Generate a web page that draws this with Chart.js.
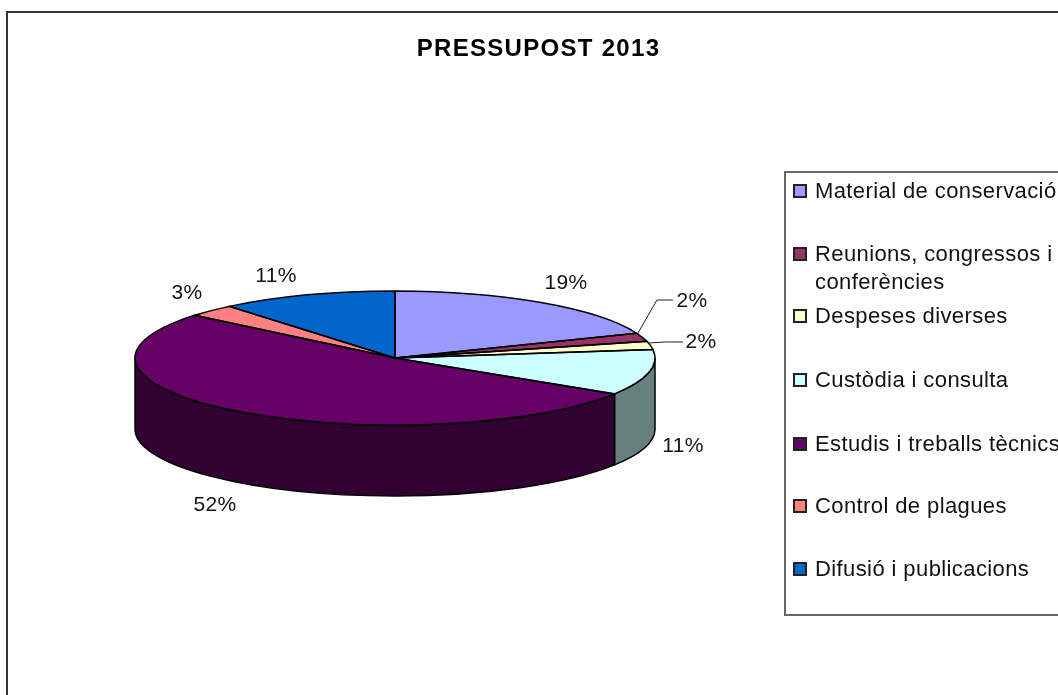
<!DOCTYPE html>
<html>
<head>
<meta charset="utf-8">
<title>PRESSUPOST 2013</title>
<script src="https://cdn.jsdelivr.net/npm/chart.js@4"></script>
<style>
  html, body { margin: 0; background: #fff; overflow: hidden; }
  #wrap { position: relative; width: 1058px; height: 695px; overflow: hidden; }
  #frame { position: absolute; left: 6px; top: 11px; width: 1100px; height: 800px; border: 2px solid #333; }
  #pie { position: absolute; left: 0; top: 0; }
  #legend { position: absolute; left: 784px; top: 171px; width: 320px; height: 441px; border: 2px solid #666;
            font: 22px "Liberation Sans", Arial, sans-serif; letter-spacing: .4px; color: #111; }
  .legend-item { position: absolute; left: 29px; line-height: 28px; white-space: pre; }
  .legend-dot { position: absolute; left: -22px; top: 7px; width: 10px; height: 10px; border: 2px solid #222; }
</style>
</head>
<body>
<div id="wrap">
  <div id="frame"></div>
  <!-- canvas runs past the window on the right, the original frame is cut off there too -->
  <canvas id="pie" width="1077" height="695"></canvas>
  <div id="legend"></div>
</div>
<script>
const titleText  = 'PRESSUPOST 2013';
const categories = ['Material de conservació', 'Reunions, congressos i\nconferències', 'Despeses diverses',
                    'Custòdia i consulta', 'Estudis i treballs tècnics', 'Control de plagues', 'Difusió i publicacions'];
const values     = [19, 2, 2, 11, 52, 3, 11];
const topColors  = ['#9999ff', '#993366', '#ffffcc', '#ccffff', '#660066', '#ff8080', '#0066cc'];
const sideColors = ['#4c4c80', '#4c1933', '#808066', '#668080', '#330033', '#804040', '#003366'];

// pie geometry on the page (3D look = circle squashed in y + extruded wall)
const CX = 395, CY = 358, RX = 260, RY = 67, DEPTH = 71;

// where the % text sits, same order as values
const labelSpots = [[566, 283], [692, 301], [701, 342], [683, 446], [215, 505], [187, 293], [276, 276]];
const leaders = [
  [[638, 333], [657, 300], [673, 300]],
  [[648, 343], [666, 342], [683, 342]],
];
const legendRows = [192, 255, 317, 381, 445, 507, 570];
const legendTop = 173;

function squash(ctx, arc) {
  ctx.translate(CX, CY);
  ctx.scale(1, RY / RX);
  ctx.translate(-arc.x, -arc.y);
}

const pie3d = {
  id: 'pie3d',
  beforeDraw(chart) {
    chart.ctx.letterSpacing = '1.3px'; // title is spaced out in the original
  },
  beforeDatasetDraw(chart) {
    const ctx = chart.ctx;
    const arcs = chart.getDatasetMeta(0).data;
    // outer wall, only the front half of the rim shows
    arcs.forEach((arc, i) => {
      const a0 = Math.max(arc.startAngle, 0);
      const a1 = Math.min(arc.endAngle, Math.PI);
      if (a1 <= a0) return;
      ctx.save();
      ctx.beginPath();
      ctx.ellipse(CX, CY, RX, RY, 0, a0, a1);
      ctx.lineTo(CX + RX * Math.cos(a1), CY + RY * Math.sin(a1) + DEPTH);
      ctx.ellipse(CX, CY + DEPTH, RX, RY, 0, a1, a0, true);
      ctx.closePath();
      ctx.fillStyle = sideColors[i];
      ctx.fill();
      ctx.strokeStyle = '#000';
      ctx.lineWidth = 1.5;
      ctx.stroke();
      ctx.restore();
    });
    ctx.save();
    squash(ctx, arcs[0]);
  },
  afterDatasetDraw(chart) {
    const ctx = chart.ctx;
    const arcs = chart.getDatasetMeta(0).data;
    ctx.restore();
    // slice outlines in page space so the line width is not squashed
    arcs.forEach(arc => {
      ctx.save();
      ctx.beginPath();
      ctx.moveTo(CX, CY);
      ctx.ellipse(CX, CY, RX, RY, 0, arc.startAngle, arc.endAngle);
      ctx.closePath();
      ctx.strokeStyle = '#000';
      ctx.lineWidth = 1.5;
      ctx.stroke();
      ctx.restore();
    });
  },
  afterDraw(chart) {
    const ctx = chart.ctx;
    ctx.save();
    ctx.strokeStyle = '#222';
    ctx.lineWidth = 1;
    leaders.forEach(pts => {
      ctx.beginPath();
      pts.forEach(([x, y], k) => k ? ctx.lineTo(x, y) : ctx.moveTo(x, y));
      ctx.stroke();
    });
    ctx.font = '21px "Liberation Sans", Arial, sans-serif';
    ctx.letterSpacing = '.3px';
    ctx.fillStyle = '#111';
    ctx.textAlign = 'center';
    ctx.textBaseline = 'middle';
    values.forEach((v, i) => ctx.fillText(v + '%', labelSpots[i][0], labelSpots[i][1]));
    ctx.restore();
  },
};

new Chart(document.getElementById('pie'), {
  type: 'pie',
  data: {
    labels: categories,
    datasets: [{
      data: values,
      backgroundColor: topColors,
      borderWidth: 0,
      radius: RX,
    }],
  },
  options: {
    responsive: false,
    animation: false,
    events: [],
    plugins: {
      legend: { display: false },
      tooltip: { enabled: false },
      title: {
        display: true,
        text: titleText,
        color: '#000',
        font: { family: '"Liberation Sans", Arial, sans-serif', size: 24, weight: 'bold' },
        padding: { top: 35, bottom: 0 },
      },
    },
  },
  plugins: [pie3d],
});

// legend as plain html, rows are not evenly spaced in the original
document.getElementById('legend').innerHTML = categories.map((c, i) =>
  `<div class="legend-item" style="top:${legendRows[i] - legendTop - 15}px"><div class="legend-dot" style="background:${topColors[i]}"></div>${c}</div>`
).join('');
</script>
</body>
</html>
